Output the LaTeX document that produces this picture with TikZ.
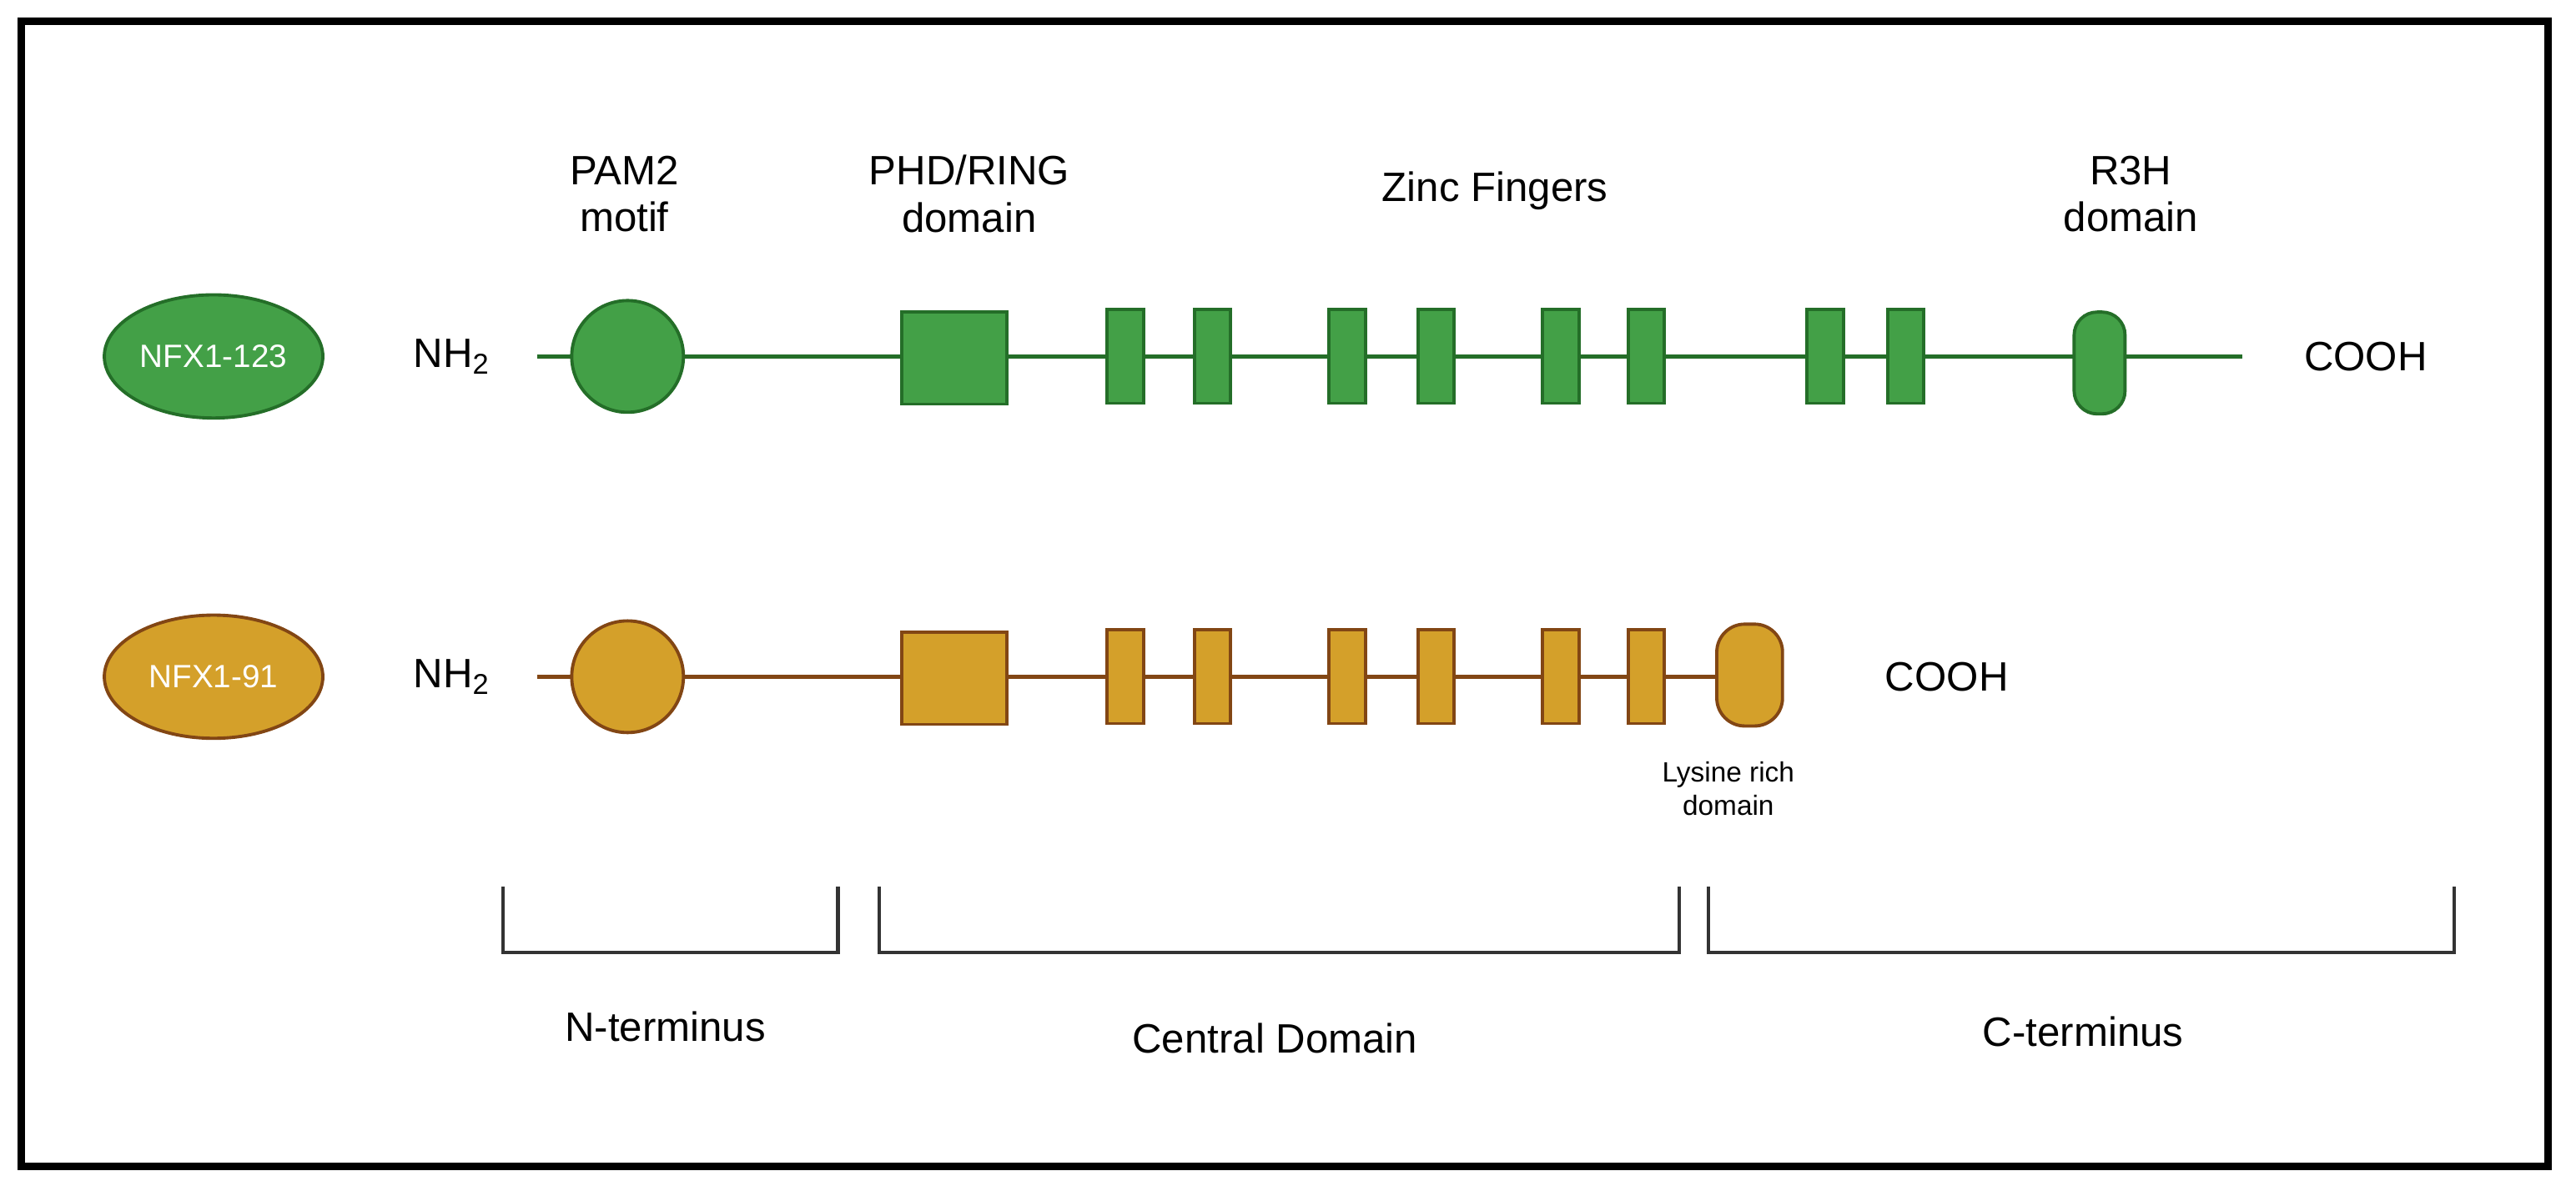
\documentclass[tikz,border=0pt]{standalone}
\usepackage{fontspec}
\setmainfont{Liberation Sans}
\usetikzlibrary{shapes.geometric}
\definecolor{gf}{RGB}{67,160,71}
\definecolor{gd}{RGB}{36,110,40}
\definecolor{of}{RGB}{212,160,42}
\definecolor{od}{RGB}{130,70,20}
\begin{document}
\begin{tikzpicture}[x=0.019694cm,y=-0.019694cm,
  lbl/.style={font=\fontsize{14}{16}\selectfont,align=center},
  dom/.style={draw=#1d,fill=#1f,line width=1.1pt,inner sep=0pt},
  ell/.style={dom=#1,ellipse,minimum width=133\unitlen,minimum height=75\unitlen,text=white,font=\fontsize{11}{13}\selectfont},
  circ/.style={dom=#1,circle,minimum size=68\unitlen},
  sq/.style={dom=#1,rectangle,minimum width=64\unitlen,minimum height=56\unitlen},
  zf/.style={dom=#1,rectangle,minimum width=22\unitlen,minimum height=57\unitlen},
  pill/.style={dom=#1,rectangle,rounded corners=14\unitlen,minimum width=31\unitlen,minimum height=62\unitlen},
  bb/.style={line width=1.2pt,black!80}]
\def\unitlen{*0.019694cm}
\useasboundingbox (0,0) rectangle (1568,725);
\draw[line width=2.5pt] (13,13) rectangle (1551,710);
% green row
\coordinate (gs) at (327,217); \coordinate (ge) at (1365,217);
\draw[gd,line width=1.5pt] (gs) -- (ge);
\node[ell=g] (e1) at (130,217) {NFX1-123};
\node[lbl] (nh1) at (275,217) {NH\textsubscript{2}};
\node[circ=g] (c1) at (382,217) {};
\node[sq=g] (s1) at (581,218) {};
\foreach \x [count=\i] in {685,738,820,874,950,1002,1111,1160}
  \node[zf=g] (z1\i) at (\x,217) {};
\node[pill=g] (r1) at (1278,221) {};
\node[lbl] (co1) at (1440,217) {COOH};
\node[lbl] (t1) at (380,118) {PAM2\\motif};
\node[lbl] (t2) at (590,118) {PHD/RING\\domain};
\node[lbl] (t3) at (910,116) {Zinc Fingers};
\node[lbl] (t4) at (1297,118) {R3H\\domain};
% orange row
\coordinate (os) at (327,412); \coordinate (oe) at (1050,412);
\draw[od,line width=1.5pt] (os) -- (oe);
\node[ell=o] (e2) at (130,412) {NFX1-91};
\node[lbl] (nh2) at (275,412) {NH\textsubscript{2}};
\node[circ=o] (c2) at (382,412) {};
\node[sq=o] (s2) at (581,413) {};
\foreach \x [count=\i] in {685,738,820,874,950,1002}
  \node[zf=o] (z2\i) at (\x,412) {};
\node[pill=o,minimum width=40\unitlen,rounded corners=17\unitlen] (r2) at (1065,411) {};
\node[lbl] (co2) at (1185,412) {COOH};
\node[font=\fontsize{9.5}{11.5}\selectfont,align=center] (ly) at (1052,480) {Lysine rich\\domain};
% brackets
\draw[bb] (306,540) -- (306,580) -- (510,580) -- (510,540);
\draw[bb] (535,540) -- (535,580) -- (1022,580) -- (1022,540);
\draw[bb] (1040,540) -- (1040,580) -- (1494,580) -- (1494,540);
\node[lbl] (n1) at (405,625) {N-terminus};
\node[lbl] (n2) at (776,632) {Central Domain};
\node[lbl] (n3) at (1268,628) {C-terminus};
\end{tikzpicture}
\end{document}
